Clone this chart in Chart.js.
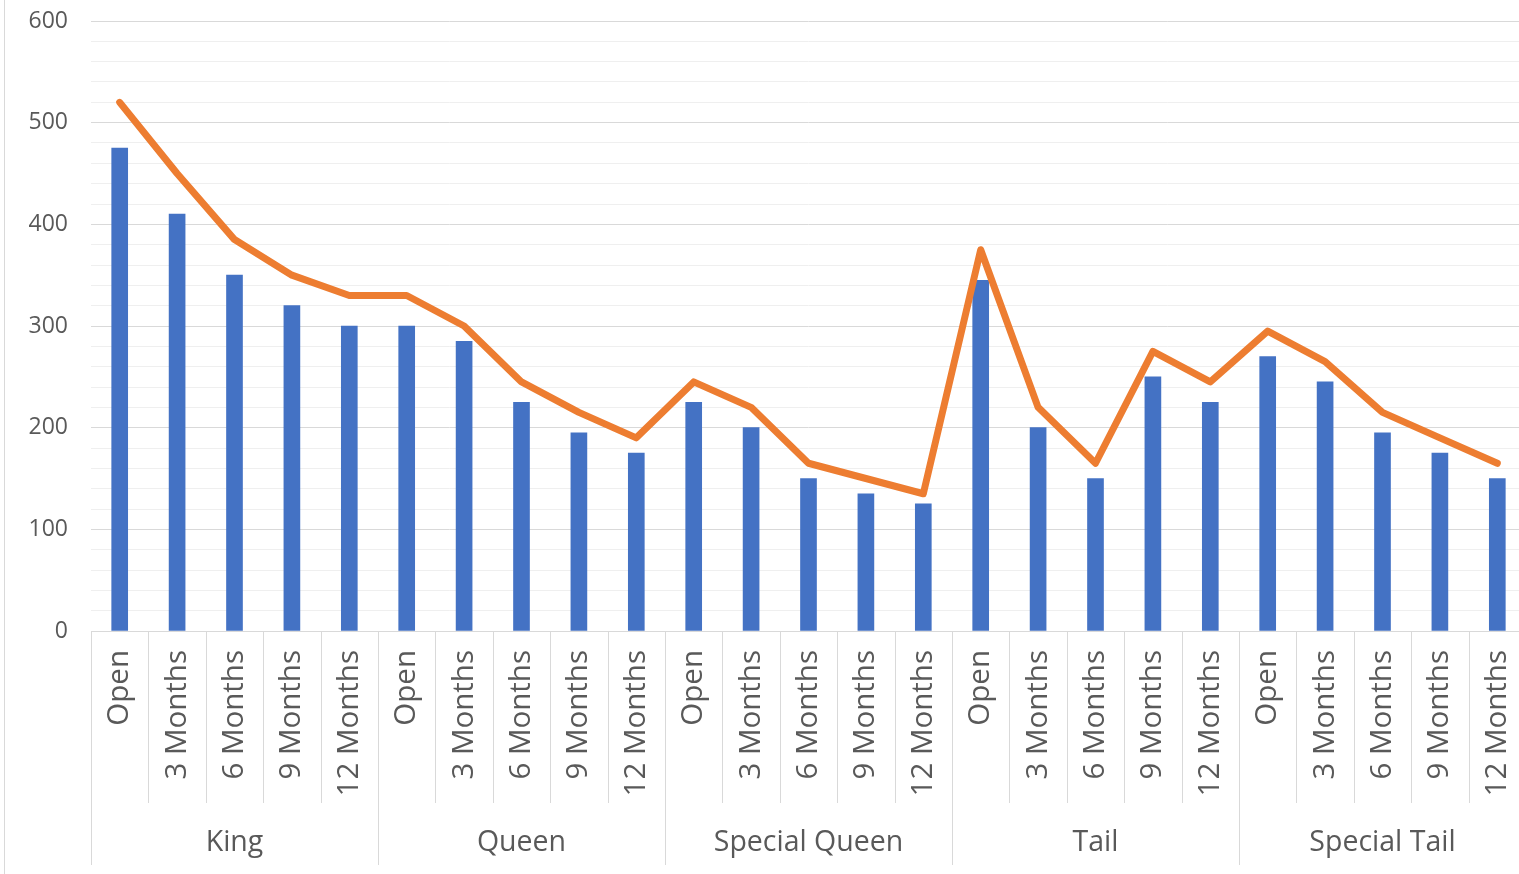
<!DOCTYPE html>
<html>
<head>
<meta charset="utf-8">
<script src="https://cdn.jsdelivr.net/npm/chart.js@4"></script>
<style>
  html, body { margin: 0; padding: 0; background: #fff; overflow: hidden; }
  #wrap { position: relative; width: 1519px; height: 874px; overflow: hidden; }
  canvas { display: block; }
</style>
</head>
<body>
<div id="wrap"><canvas id="c" width="1526" height="874"></canvas></div>
<script>
// Product groups and the review periods shown under each
const groups = ['King', 'Queen', 'Special Queen', 'Tail', 'Special Tail'];
const periods = ['Open', '3 Months', '6 Months', '9 Months', '12 Months'];

// Column series, five values per group in period order
const kingBars = [475, 410, 350, 320, 300];
const queenBars = [300, 285, 225, 195, 175];
const specialQueenBars = [225, 200, 150, 135, 125];
const tailBars = [345, 200, 150, 250, 225];
const specialTailBars = [270, 245, 195, 175, 150];

// Line series, five values per group in period order
const kingLine = [520, 450, 385, 350, 330];
const queenLine = [330, 300, 245, 215, 190];
const specialQueenLine = [245, 220, 165, 150, 135];
const tailLine = [375, 220, 165, 275, 245];
const specialTailLine = [295, 265, 215, 190, 165];

// Value axis
const yMin = 0;
const yMax = 600;
const yMinorStep = 20;
const yLabelStep = 100;

const labels = groups.flatMap(() => periods);
const barValues = [].concat(kingBars, queenBars, specialQueenBars, tailBars, specialTailBars);
const lineValues = [].concat(kingLine, queenLine, specialQueenLine, tailLine, specialTailLine);

const textColor = '#595959';
const axisLine = '#d9d9d9';
const FONT = '"Open Sans", "Liberation Sans", sans-serif';

// Separators between periods and groups plus the group names below the period labels
const groupAxis = {
  id: 'groupAxis',
  beforeDraw(chart) {
    const ctx = chart.ctx;
    ctx.save();
    ctx.strokeStyle = '#d9d9d9';
    ctx.lineWidth = 1;
    ctx.beginPath();
    ctx.moveTo(4.5, 0);
    ctx.lineTo(4.5, chart.height);
    ctx.stroke();
    ctx.restore();
  },
  afterDraw(chart) {
    const ctx = chart.ctx;
    const x = chart.scales.x;
    const area = chart.chartArea;
    const n = periods.length;
    const subBottom = 803;
    const groupBottom = 865;
    ctx.save();
    ctx.strokeStyle = axisLine;
    ctx.lineWidth = 1;
    for (let i = 0; i <= labels.length; i++) {
      let px;
      if (i === 0) px = area.left;
      else if (i === labels.length) px = area.right;
      else px = (x.getPixelForValue(i - 1) + x.getPixelForValue(i)) / 2;
      const isGroupEdge = i % n === 0;
      const xx = Math.round(px) + 0.5;
      ctx.beginPath();
      ctx.moveTo(xx, area.bottom);
      ctx.lineTo(xx, isGroupEdge ? groupBottom : subBottom);
      ctx.stroke();
    }
    ctx.fillStyle = textColor;
    ctx.font = '28.5px ' + FONT;
    ctx.textAlign = 'center';
    ctx.textBaseline = 'middle';
    groups.forEach((g, gi) => {
      const first = x.getPixelForValue(gi * n);
      const last = x.getPixelForValue(gi * n + n - 1);
      ctx.fillText(g, (first + last) / 2, 843);
    });
    ctx.restore();
  }
};

new Chart(document.getElementById('c'), {
  data: {
    labels: labels,
    datasets: [
      {
        type: 'line',
        data: lineValues,
        borderColor: '#ED7D31',
        backgroundColor: '#ED7D31',
        borderWidth: 7,
        tension: 0,
        pointRadius: 0,
        borderCapStyle: 'round',
        borderJoinStyle: 'round',
        order: 0
      },
      {
        type: 'bar',
        data: barValues,
        backgroundColor: '#4472C4',
        borderWidth: 0,
        barThickness: 16,
        order: 1
      }
    ]
  },
  options: {
    responsive: false,
    animation: false,
    layout: { padding: { top: 21, right: 0, left: 0, bottom: 0 } },
    plugins: { legend: { display: false }, tooltip: { enabled: false } },
    scales: {
      x: {
        type: 'category',
        offset: true,
        grid: { display: false, drawTicks: false },
        border: { display: true, color: axisLine, width: 1 },
        ticks: {
          autoSkip: false,
          minRotation: 90,
          maxRotation: 90,
          padding: 19,
          color: textColor,
          font: { family: FONT, size: 29.5 }
        },
        afterFit(scale) {
          scale.height = 243;
          scale.paddingLeft = 0;
          scale.paddingRight = 0;
        }
      },
      y: {
        min: yMin,
        max: yMax,
        border: { display: false },
        grid: {
          drawTicks: false,
          color: (c) => (c.tick && c.tick.value % yLabelStep === 0) ? '#d9d9d9' : '#efefef',
          lineWidth: 1
        },
        ticks: {
          stepSize: yMinorStep,
          autoSkip: false,
          padding: 23,
          color: textColor,
          font: { family: FONT, size: 23 },
          callback: (v) => (v % yLabelStep === 0 ? String(v) : '')
        },
        afterFit(scale) {
          scale.width = 91;
          scale.paddingTop = 0;
          scale.paddingBottom = 0;
        }
      }
    }
  },
  plugins: [groupAxis]
});
</script>
</body>
</html>
